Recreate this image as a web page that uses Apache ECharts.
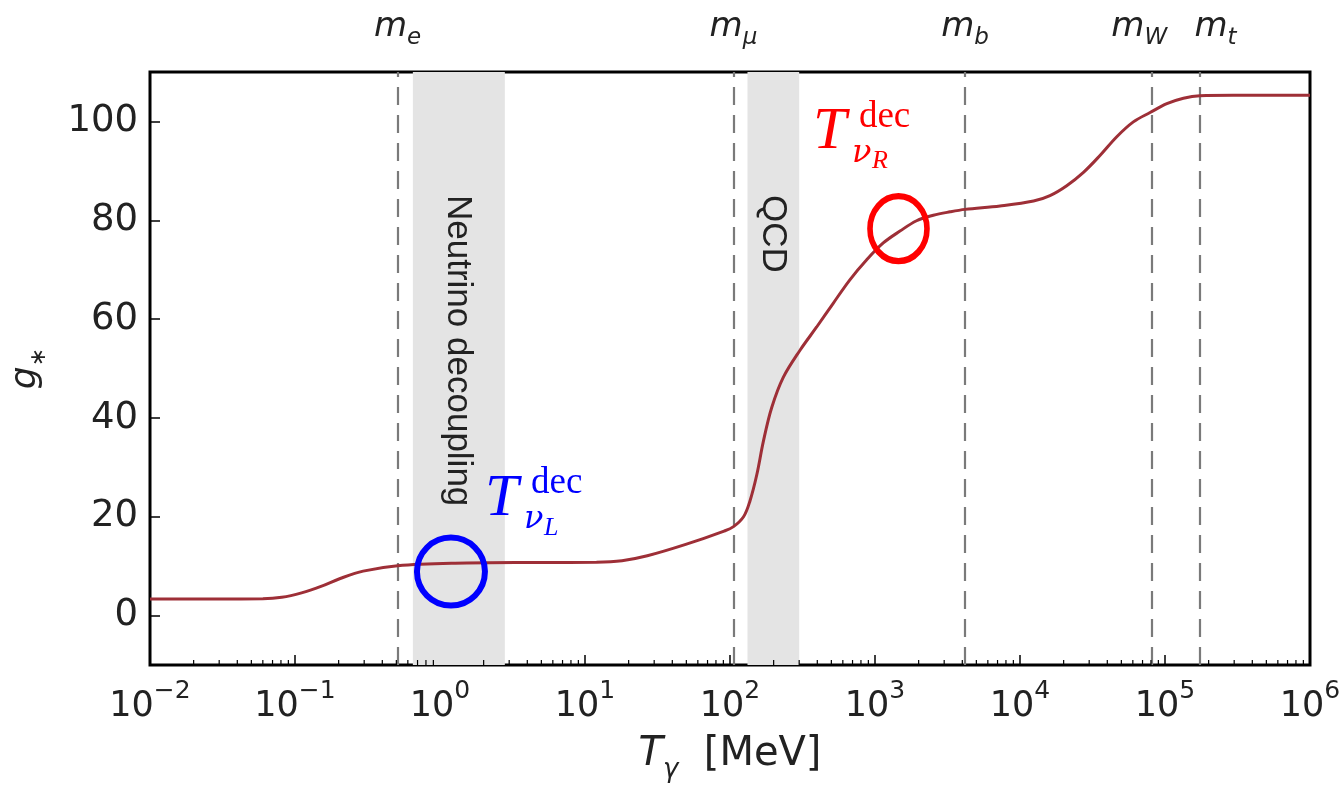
<!DOCTYPE html>
<html>
<head>
<meta charset="utf-8">
<script src="https://cdn.jsdelivr.net/npm/echarts@6/dist/echarts.min.js"></script>
<style>
html,body{margin:0;padding:0;background:#fff;}
#chart{width:1340px;height:793px;}
</style>
</head>
<body>
<div id="chart"></div>
<script>
// ---- data ----
const temperatures = [0.01, 0.03, 0.06, 0.081, 0.111, 0.151, 0.205, 0.295, 0.51, 1.27, 5, 12, 18, 26.9, 49.5, 91, 105.7, 124, 137, 153, 170, 194, 233, 304, 396, 515, 673, 877, 1140, 1486, 1936, 2524, 3290, 4180, 7280, 12400, 16100, 21000, 27400, 35600, 46500, 60500, 78900, 103000, 134000, 174000, 295000, 1000000];
const gStar = [3.36, 3.36, 3.4, 3.7, 4.6, 5.9, 7.5, 9.0, 10.1, 10.6, 10.75, 10.8, 11.1, 12.1, 14.4, 17.1, 18.0, 20.0, 23.1, 28.5, 35.3, 42.1, 48.2, 53.7, 58.4, 63.2, 68.0, 72.0, 75.4, 77.8, 79.9, 81.0, 81.7, 82.2, 82.9, 83.9, 85.0, 87.0, 89.7, 93.1, 96.9, 99.9, 101.8, 103.6, 104.7, 105.2, 105.3, 105.3];
const massNames = ['e', 'μ', 'b', 'W', 't'];
const massValues = [0.511, 105.7, 4180, 80400, 173000];
const bandNames = ['Neutrino decoupling', 'QCD'];
const bandStart = [0.65, 132];
const bandEnd = [2.8, 300];
const yTickValues = [0, 20, 40, 60, 80, 100];
const minorMultipliers = [2, 3, 4, 5, 6, 7, 8, 9];
const decades = [-2, -1, 0, 1, 2, 3, 4, 5];
const circleCenters = [[1.19, 8.9], [1452, 78.3]];
const circleColors = ['#0000ff', '#ff0000'];
const circleSizes = [[68, 68], [57, 65]];
const decLabelAnchors = [[2.11, 20.0], [385, 94.1]];
const decLabelSubs = ['L', 'R'];

const minorTicks = [];
decades.forEach(d => minorMultipliers.forEach(m => minorTicks.push([m * Math.pow(10, d), -10])));

const chart = echarts.init(document.getElementById('chart'), null, {renderer: 'canvas'});

const labelOffsets = {W: [-12, 0], t: [16, 0]};

const option = {
  animation: false,
  backgroundColor: '#fff',
  grid: {left: 150, right: 30, top: 72, bottom: 128, containLabel: false, outerBoundsMode: 'none', show: true, borderColor: '#000', borderWidth: 3, backgroundColor: 'transparent'},
  xAxis: {
    type: 'log', logBase: 10, min: 0.01, max: 1e6,
    axisLine: {show: false, onZero: false},
    axisTick: {show: true, inside: true, length: 10, lineStyle: {color: '#000', width: 1.5}},
    splitLine: {show: false},
    axisLabel: {
      margin: 14,
      formatter: v => '{b|10}{s|' + Math.round(Math.log10(v)).toString().replace('-', '−') + '}',
      rich: {
        b: {fontFamily: 'DejaVu Sans', fontSize: 35, color: '#222', verticalAlign: 'top', padding: [10, 0, 0, 0]},
        s: {fontFamily: 'DejaVu Sans', fontSize: 25, color: '#222', verticalAlign: 'top'}
      }
    },
    name: '{T|T}{g|γ}{u|  [MeV]}',
    nameLocation: 'middle', nameGap: 70,
    nameTextStyle: {
      rich: {
        T: {fontFamily: 'DejaVu Sans', fontStyle: 'italic', fontSize: 40, color: '#222', verticalAlign: 'bottom', padding: [0, 0, 8, 0]},
        g: {fontFamily: 'DejaVu Sans', fontStyle: 'italic', fontSize: 26, color: '#222', verticalAlign: 'bottom'},
        u: {fontFamily: 'DejaVu Sans', fontSize: 40, color: '#222', verticalAlign: 'bottom', padding: [0, 0, 8, 0]}
      }
    }
  },
  yAxis: {
    type: 'value', min: -10, max: 110, interval: 10,
    axisLine: {show: false},
    axisTick: {show: true, inside: true, length: 10, customValues: yTickValues, lineStyle: {color: '#000', width: 1.5}},
    splitLine: {show: false},
    axisLabel: {customValues: yTickValues, margin: 12, fontFamily: 'DejaVu Sans', fontSize: 37, color: '#222'},
    name: '{g|g}{s|∗}', nameLocation: 'middle', nameGap: 100, nameRotate: 90,
    nameTextStyle: {
      rich: {
        g: {fontFamily: 'DejaVu Sans', fontStyle: 'italic', fontSize: 36, color: '#222', verticalAlign: 'bottom', padding: [0, 0, 6, 0]},
        s: {fontFamily: 'DejaVu Sans', fontSize: 22, color: '#222', verticalAlign: 'bottom'}
      }
    }
  },
  series: [
    {
      type: 'line', name: 'g*',
      data: temperatures.map((t, i) => [t, gStar[i]]),
      showSymbol: false, smooth: 0.35,
      lineStyle: {color: '#9e2f37', width: 3},
      z: 5,
      markArea: {
        silent: true,
        itemStyle: {color: '#e4e4e4'},
        data: bandStart.map((s, i) => [{xAxis: s}, {xAxis: bandEnd[i]}])
      },
      markLine: {
        silent: true, symbol: 'none',
        lineStyle: {color: '#7a7a7a', width: 2.2, type: [18, 10]},
        label: {
          show: true, position: 'end', distance: 22,
          rich: {
            m: {fontFamily: 'DejaVu Sans', fontStyle: 'italic', fontSize: 34, color: '#222', verticalAlign: 'bottom', padding: [0, 0, 6, 0]},
            s: {fontFamily: 'DejaVu Sans', fontStyle: 'italic', fontSize: 23, color: '#222', verticalAlign: 'bottom'}
          }
        },
        data: massValues.map((v, i) => ({
          xAxis: v,
          label: {formatter: '{m|m}{s|' + massNames[i] + '}', offset: labelOffsets[massNames[i]] || [0, 0]}
        }))
      }
    },
    {
      type: 'custom', name: 'minorTicks', data: minorTicks, silent: true, clip: false, z: 6,
      renderItem: (params, api) => {
        const p = api.coord([api.value(0), api.value(1)]);
        return {type: 'line', shape: {x1: p[0], y1: p[1], x2: p[0], y2: p[1] - 5}, style: {stroke: '#000', lineWidth: 1.2}};
      }
    },
    {
      type: 'scatter', name: 'circles', silent: true, z: 7,
      data: circleCenters.map((c, i) => ({
        value: c, symbolSize: circleSizes[i],
        itemStyle: {color: 'rgba(0,0,0,0)', borderColor: circleColors[i], borderWidth: 6, opacity: 1}
      })),
      symbol: 'circle'
    }
  ]
};
chart.setOption(option);

// annotations anchored in data coordinates
const graphics = [];
bandNames.forEach((name, i) => {
  const xc = Math.sqrt(bandStart[i] * bandEnd[i]);
  const p = chart.convertToPixel({gridIndex: 0}, [xc, 110]);
  graphics.push({
    type: 'text', x: p[0] - 1, y: p[1] + 123, rotation: -Math.PI / 2, z: 10,
    style: {text: name, fontFamily: 'Liberation Sans', fontSize: 35, fill: '#222', align: 'left', verticalAlign: 'middle'}
  });
});

decLabelAnchors.forEach((a, i) => {
  const p = chart.convertToPixel({gridIndex: 0}, a);
  const col = circleColors[i];
  graphics.push(
    {type: 'text', x: p[0] - 2, y: p[1] - 18, z: 10, style: {text: 'T', fontFamily: 'Liberation Serif', fontStyle: 'italic', fontSize: 60, fill: col, align: 'left', verticalAlign: 'middle'}},
    {type: 'text', x: p[0] + 44, y: p[1] - 33, z: 10, style: {text: 'dec', fontFamily: 'Liberation Serif', fontSize: 37, fill: col, align: 'left', verticalAlign: 'middle'}},
    {type: 'text', x: p[0] + 37, y: p[1] + 3, z: 10, style: {text: 'ν', fontFamily: 'DejaVu Serif', fontStyle: 'italic', fontSize: 32, fill: col, align: 'left', verticalAlign: 'middle'}},
    {type: 'text', x: p[0] + 57, y: p[1] + 11, z: 10, style: {text: decLabelSubs[i], fontFamily: 'Liberation Serif', fontStyle: 'italic', fontSize: 26, fill: col, align: 'left', verticalAlign: 'middle'}}
  );
});
chart.setOption({graphic: {elements: graphics}});
</script>
</body>
</html>
